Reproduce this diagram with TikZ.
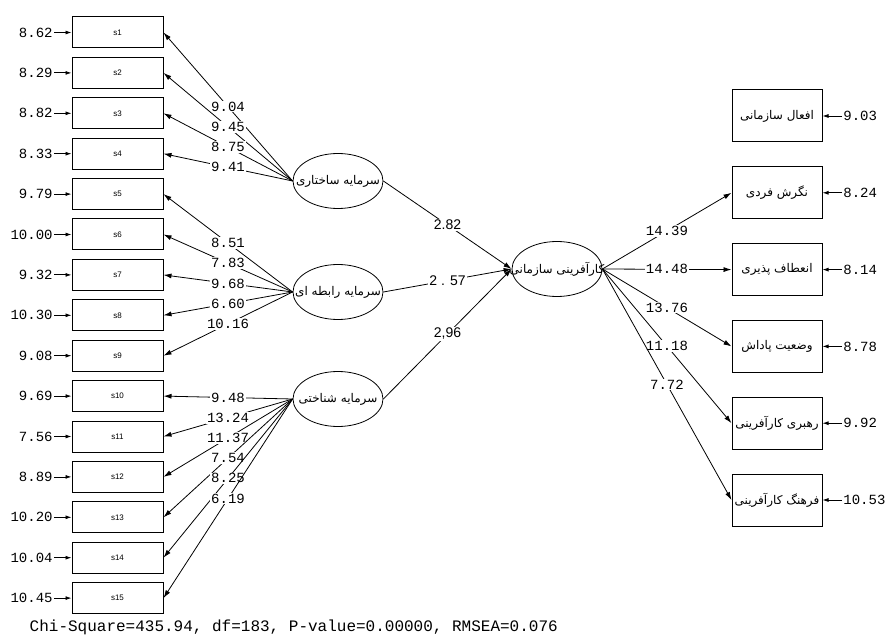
\documentclass[tikz,border=0pt]{standalone}
\usepackage{fontspec}
\setmainfont{Liberation Sans}
\newfontfamily\monofont{Liberation Mono}
\newfontfamily\fafont[Script=Arabic]{DejaVu Sans}
\TeXXeTstate=1
\usetikzlibrary{arrows.meta,shapes.geometric}
\newcommand{\fa}[1]{\makebox[0pt]{\fafont\beginR #1\endR}}
\tikzset{
  ind/.style={draw, line width=1pt, minimum width=91pt, minimum height=31pt, inner sep=0pt, font=\fontsize{8}{9}\selectfont},
  obs/.style={draw, line width=1pt, minimum width=90pt, minimum height=52pt, inner sep=0pt, font=\fontsize{12}{13}\selectfont},
  lat/.style={draw, ellipse, minimum width=90pt, minimum height=55pt, inner sep=0pt, font=\fontsize{12}{13}\selectfont},
  val/.style={font={\monofont\fontsize{14}{14}\selectfont}, fill=white, inner sep=1pt},
  sval/.style={font=\fontsize{14}{14}\selectfont, fill=white, inner sep=1pt},
  err/.style={-{Latex[length=6pt,width=4pt]}},
  load/.style={-{Latex[length=8pt,width=5pt]}},
}
\begin{document}
\begin{tikzpicture}[x=1pt, y=-1pt, line width=0.8pt]
    \useasboundingbox (0,0) rectangle (889,644);
    % latent variables
    \node[lat] (ss) at (338,181) {\fa{سرمایه ساختاری}};
    \node[lat] (sr) at (338,292) {\fa{سرمایه رابطه ای}};
    \node[lat] (sn) at (338,399) {\fa{سرمایه شناختی}};
    \node[lat] (ka) at (557,269) {\fa{کارآفرینی سازمانی}};
    % left indicators and their errors
    \foreach \i/\e in {1/8.62, 2/8.29, 3/8.82, 4/8.33, 5/9.79, 6/10.00, 7/9.32, 8/10.30,
                       9/9.08, 10/9.69, 11/7.56, 12/8.89, 13/10.20, 14/10.04, 15/10.45}{
        \node[ind] (s\i) at (117.5,{32.5+(\i-1)*40.4}) {s\i};
        \node[val, fill=none, anchor=east] (e\i) at (54,{32.5+(\i-1)*40.4}) {\e};
        \draw[err] (e\i) -- (s\i);
    }
    % loadings
    \foreach \i/\ld in {1/9.04, 2/9.45, 3/8.75, 4/9.41}
        \draw[load] (ss.west) -- node[val] (l\i) {\ld} (s\i.east);
    \foreach \i/\ld in {5/8.51, 6/7.83, 7/9.68, 8/6.60, 9/10.16}
        \draw[load] (sr.west) -- node[val] (l\i) {\ld} (s\i.east);
    \foreach \i/\ld in {10/9.48, 11/13.24, 12/11.37, 13/7.54, 14/8.25, 15/6.19}
        \draw[load] (sn.west) -- node[val] (l\i) {\ld} (s\i.east);
    % structural paths
    \draw[load] (ss.east) -- node[sval] (p1) {2.82} (ka.west);
    \draw[load] (sr.east) -- node[sval] (p2) {2 . 57} (ka.west);
    \draw[load] (sn.east) -- node[sval] (p3) {2,96} (ka.west);
    % right indicators and their errors
    \foreach \j/\t/\e in {1/{افعال سازمانی}/9.03, 2/{نگرش فردی}/8.24, 3/{انعطاف پذیری}/8.14,
                          4/{وضعیت پاداش}/8.78, 5/{رهبری کارآفرینی}/9.92, 6/{فرهنگ کارآفرینی}/10.53}{
        \node[obs] (r\j) at (777,{116+(\j-1)*76.8}) {\fa{\t}};
        \node[val, fill=none, anchor=west] (f\j) at (842,{116+(\j-1)*76.8}) {\e};
        \draw[err] (f\j) -- (r\j);
    }
    \foreach \j/\ld in {2/14.39, 3/14.48, 4/13.76, 5/11.18, 6/7.72}
        \draw[load] (ka.east) -- node[val] (m\j) {\ld} (r\j.west);
    % fit statistics
    \node[anchor=west, font={\monofont\fontsize{16}{16}\selectfont}] (fit) at (26,627)
        {Chi-Square=435.94, df=183, P-value=0.00000, RMSEA=0.076};
\end{tikzpicture}
\end{document}
